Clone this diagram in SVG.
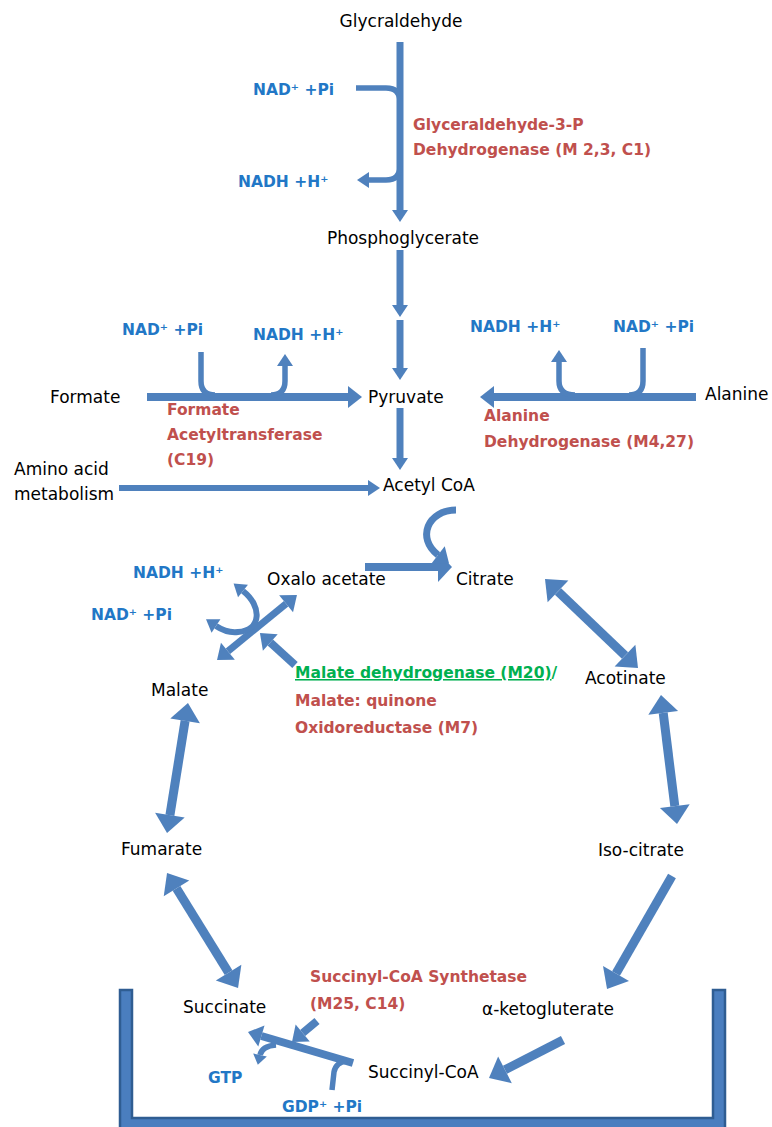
<svg xmlns="http://www.w3.org/2000/svg" width="772" height="1127" viewBox="0 0 772 1127">
<style>
.blk{font-family:"DejaVu Sans",sans-serif;font-size:17px;fill:#000}
.cof{font-family:"DejaVu Sans",sans-serif;font-size:15.5px;font-weight:bold;fill:#2277c6}
.enz{font-family:"DejaVu Sans",sans-serif;font-size:15.5px;font-weight:bold;fill:#c0504d}
.grn{font-family:"DejaVu Sans",sans-serif;font-size:15.5px;font-weight:bold;fill:#00b050}
.ln{fill:none;stroke:#4f81bd;stroke-linejoin:round}
.w5{stroke-width:5.5}.w6{stroke-width:6}.w7{stroke-width:7}.w8{stroke-width:8}.w9{stroke-width:9}
</style>
<defs>
<marker id="ht" markerUnits="userSpaceOnUse" markerWidth="10" markerHeight="14" refX="0" refY="7" orient="auto-start-reverse" overflow="visible"><path d="M0,0 L10,7 L0,14 z" fill="#4f81bd"/></marker>
<marker id="hs" markerUnits="userSpaceOnUse" markerWidth="12" markerHeight="16" refX="0" refY="8" orient="auto-start-reverse" overflow="visible"><path d="M0,0 L12,8 L0,16 z" fill="#4f81bd"/></marker>
<marker id="hm" markerUnits="userSpaceOnUse" markerWidth="14" markerHeight="22" refX="0" refY="11" orient="auto-start-reverse" overflow="visible"><path d="M0,0 L14,11 L0,22 z" fill="#4f81bd"/></marker>
<marker id="hw" markerUnits="userSpaceOnUse" markerWidth="14" markerHeight="30" refX="0" refY="15" orient="auto-start-reverse" overflow="visible"><path d="M0,0 L14,15 L0,30 z" fill="#4f81bd"/></marker>
<marker id="hl" markerUnits="userSpaceOnUse" markerWidth="18" markerHeight="30" refX="0" refY="15" orient="auto-start-reverse" overflow="visible"><path d="M0,0 L18,15 L0,30 z" fill="#4f81bd"/></marker>
</defs>

<g id="membrane">
<path d="M120,990 L132,990 L132,1118 L713,1118 L713,990 L725,990 L725,1132 L120,1132 Z" fill="#4a7ebf" stroke="#2f5d92" stroke-width="2.5"/>
</g>

<g id="connectors">
<path class="ln w7" d="M400,42 L400,210" marker-end="url(#hs)"/>
<path class="ln w5" d="M356,88 L386,88 Q400,88 400,102"/>
<path class="ln w5" d="M400,166 Q400,180 386,180 L369,180" marker-end="url(#hs)"/>
<path class="ln w7" d="M400,250 L400,305" marker-end="url(#hs)"/>
<path class="ln w7" d="M400,320 L400,368" marker-end="url(#hs)"/>
<path class="ln w7" d="M400,408 L400,458" marker-end="url(#hs)"/>

<path class="ln w8" d="M147,397 L348,397" marker-end="url(#hm)"/>
<path class="ln w5" d="M201,352 L201,381 Q201,395 215,395"/>
<path class="ln w5" d="M271,395 Q285,395 285,381 L285,366" marker-end="url(#hs)"/>

<path class="ln w8" d="M696,397 L494,397" marker-end="url(#hm)"/>
<path class="ln w5" d="M643,348 L643,381 Q643,395 629,395"/>
<path class="ln w5" d="M575,395 Q559,395 559,381 L559,362" marker-end="url(#hs)"/>

<path class="ln w6" d="M119,488 L368,488" marker-end="url(#hs)"/>

<path class="ln w8" d="M365,567 L438,567" marker-end="url(#hw)"/>
<path class="ln w7" d="M456,510 C428,510 416,538 438,555" marker-end="url(#hm)"/>

<path class="ln w9" d="M558,591.4 L625,655.6" marker-start="url(#hl)" marker-end="url(#hl)"/>
<path class="ln w9" d="M663.2,712.9 L674.8,806.1" marker-start="url(#hl)" marker-end="url(#hl)"/>
<path class="ln w9" d="M672,876 L616,973.4" marker-end="url(#hl)"/>
<path class="ln w9" d="M563,1040 L505,1069.8" marker-end="url(#hl)"/>
<path class="ln w9" d="M185.1,720.8 L169.9,815.2" marker-start="url(#hl)" marker-end="url(#hl)"/>
<path class="ln w9" d="M176.5,888.3 L228.6,972.7" marker-start="url(#hl)" marker-end="url(#hl)"/>

<path class="ln w7" d="M227.9,651.2 L286.1,603.8" marker-start="url(#hm)" marker-end="url(#hm)"/>
<path class="ln w6" d="M243,591 C262,606 262,630 238,632 C229,633 222,630 216,626" marker-start="url(#hs)" marker-end="url(#hs)"/>
<path class="ln w8" d="M295,665 L270.3,642.5" marker-end="url(#hm)"/>

<path class="ln w8" d="M353,1063 L261.4,1036" marker-end="url(#hm)"/>
<path class="ln w5" d="M276,1045 Q262,1046 260,1055" marker-end="url(#ht)"/>
<path class="ln w5" d="M332,1090 L334,1072 Q336,1062 347,1061"/>
<path class="ln w8" d="M317,1021 L302.7,1033" marker-end="url(#hm)"/>
</g>

<g id="glycraldehyde"><text class="blk" x="401" y="27" text-anchor="middle">Glycraldehyde</text></g>
<g id="phosphoglycerate"><text class="blk" x="403" y="244" text-anchor="middle">Phosphoglycerate</text></g>
<g id="formate"><text class="blk" x="50" y="403">Formate</text></g>
<g id="pyruvate"><text class="blk" x="368" y="403">Pyruvate</text></g>
<g id="alanine"><text class="blk" x="705" y="400">Alanine</text></g>
<g id="amino-acid"><text class="blk" x="14" y="475">Amino acid</text><text class="blk" x="14" y="500">metabolism</text></g>
<g id="acetyl-coa"><text class="blk" x="383" y="491">Acetyl CoA</text></g>
<g id="oxaloacetate"><text class="blk" x="267" y="585">Oxalo acetate</text></g>
<g id="citrate"><text class="blk" x="456" y="585">Citrate</text></g>
<g id="acotinate"><text class="blk" x="585" y="684">Acotinate</text></g>
<g id="malate"><text class="blk" x="151" y="696">Malate</text></g>
<g id="isocitrate"><text class="blk" x="598" y="856">Iso-citrate</text></g>
<g id="fumarate"><text class="blk" x="121" y="855">Fumarate</text></g>
<g id="ketoglutarate"><text class="blk" x="482" y="1015">α-ketogluterate</text></g>
<g id="succinate"><text class="blk" x="183" y="1013">Succinate</text></g>
<g id="succinyl-coa"><text class="blk" x="368" y="1078">Succinyl-CoA</text></g>

<g id="cofactors">
<text class="cof" x="253" y="95">NAD⁺ +Pi</text>
<text class="cof" x="238" y="187">NADH +H⁺</text>
<text class="cof" x="122" y="335">NAD⁺ +Pi</text>
<text class="cof" x="253" y="340">NADH +H⁺</text>
<text class="cof" x="470" y="332">NADH +H⁺</text>
<text class="cof" x="613" y="332">NAD⁺ +Pi</text>
<text class="cof" x="133" y="578">NADH +H⁺</text>
<text class="cof" x="172" y="620" text-anchor="end">NAD⁺ +Pi</text>
<text class="cof" x="208" y="1083">GTP</text>
<text class="cof" x="282" y="1112">GDP⁺ +Pi</text>
</g>

<g id="enzyme-gapdh"><text class="enz" x="413" y="130">Glyceraldehyde-3-P</text><text class="enz" x="413" y="155">Dehydrogenase (M 2,3, C1)</text></g>
<g id="enzyme-formate"><text class="enz" x="167" y="415">Formate</text><text class="enz" x="167" y="440">Acetyltransferase</text><text class="enz" x="167" y="465">(C19)</text></g>
<g id="enzyme-alanine"><text class="enz" x="484" y="421">Alanine</text><text class="enz" x="484" y="447">Dehydrogenase (M4,27)</text></g>
<g id="enzyme-malate"><text class="grn" x="295" y="678"><tspan text-decoration="underline">Malate dehydrogenase (M20)</tspan>/</text><text class="enz" x="295" y="706">Malate: quinone</text><text class="enz" x="295" y="733">Oxidoreductase (M7)</text></g>
<g id="enzyme-succinyl"><text class="enz" x="310" y="982">Succinyl-CoA Synthetase</text><text class="enz" x="310" y="1009">(M25, C14)</text></g>
</svg>
